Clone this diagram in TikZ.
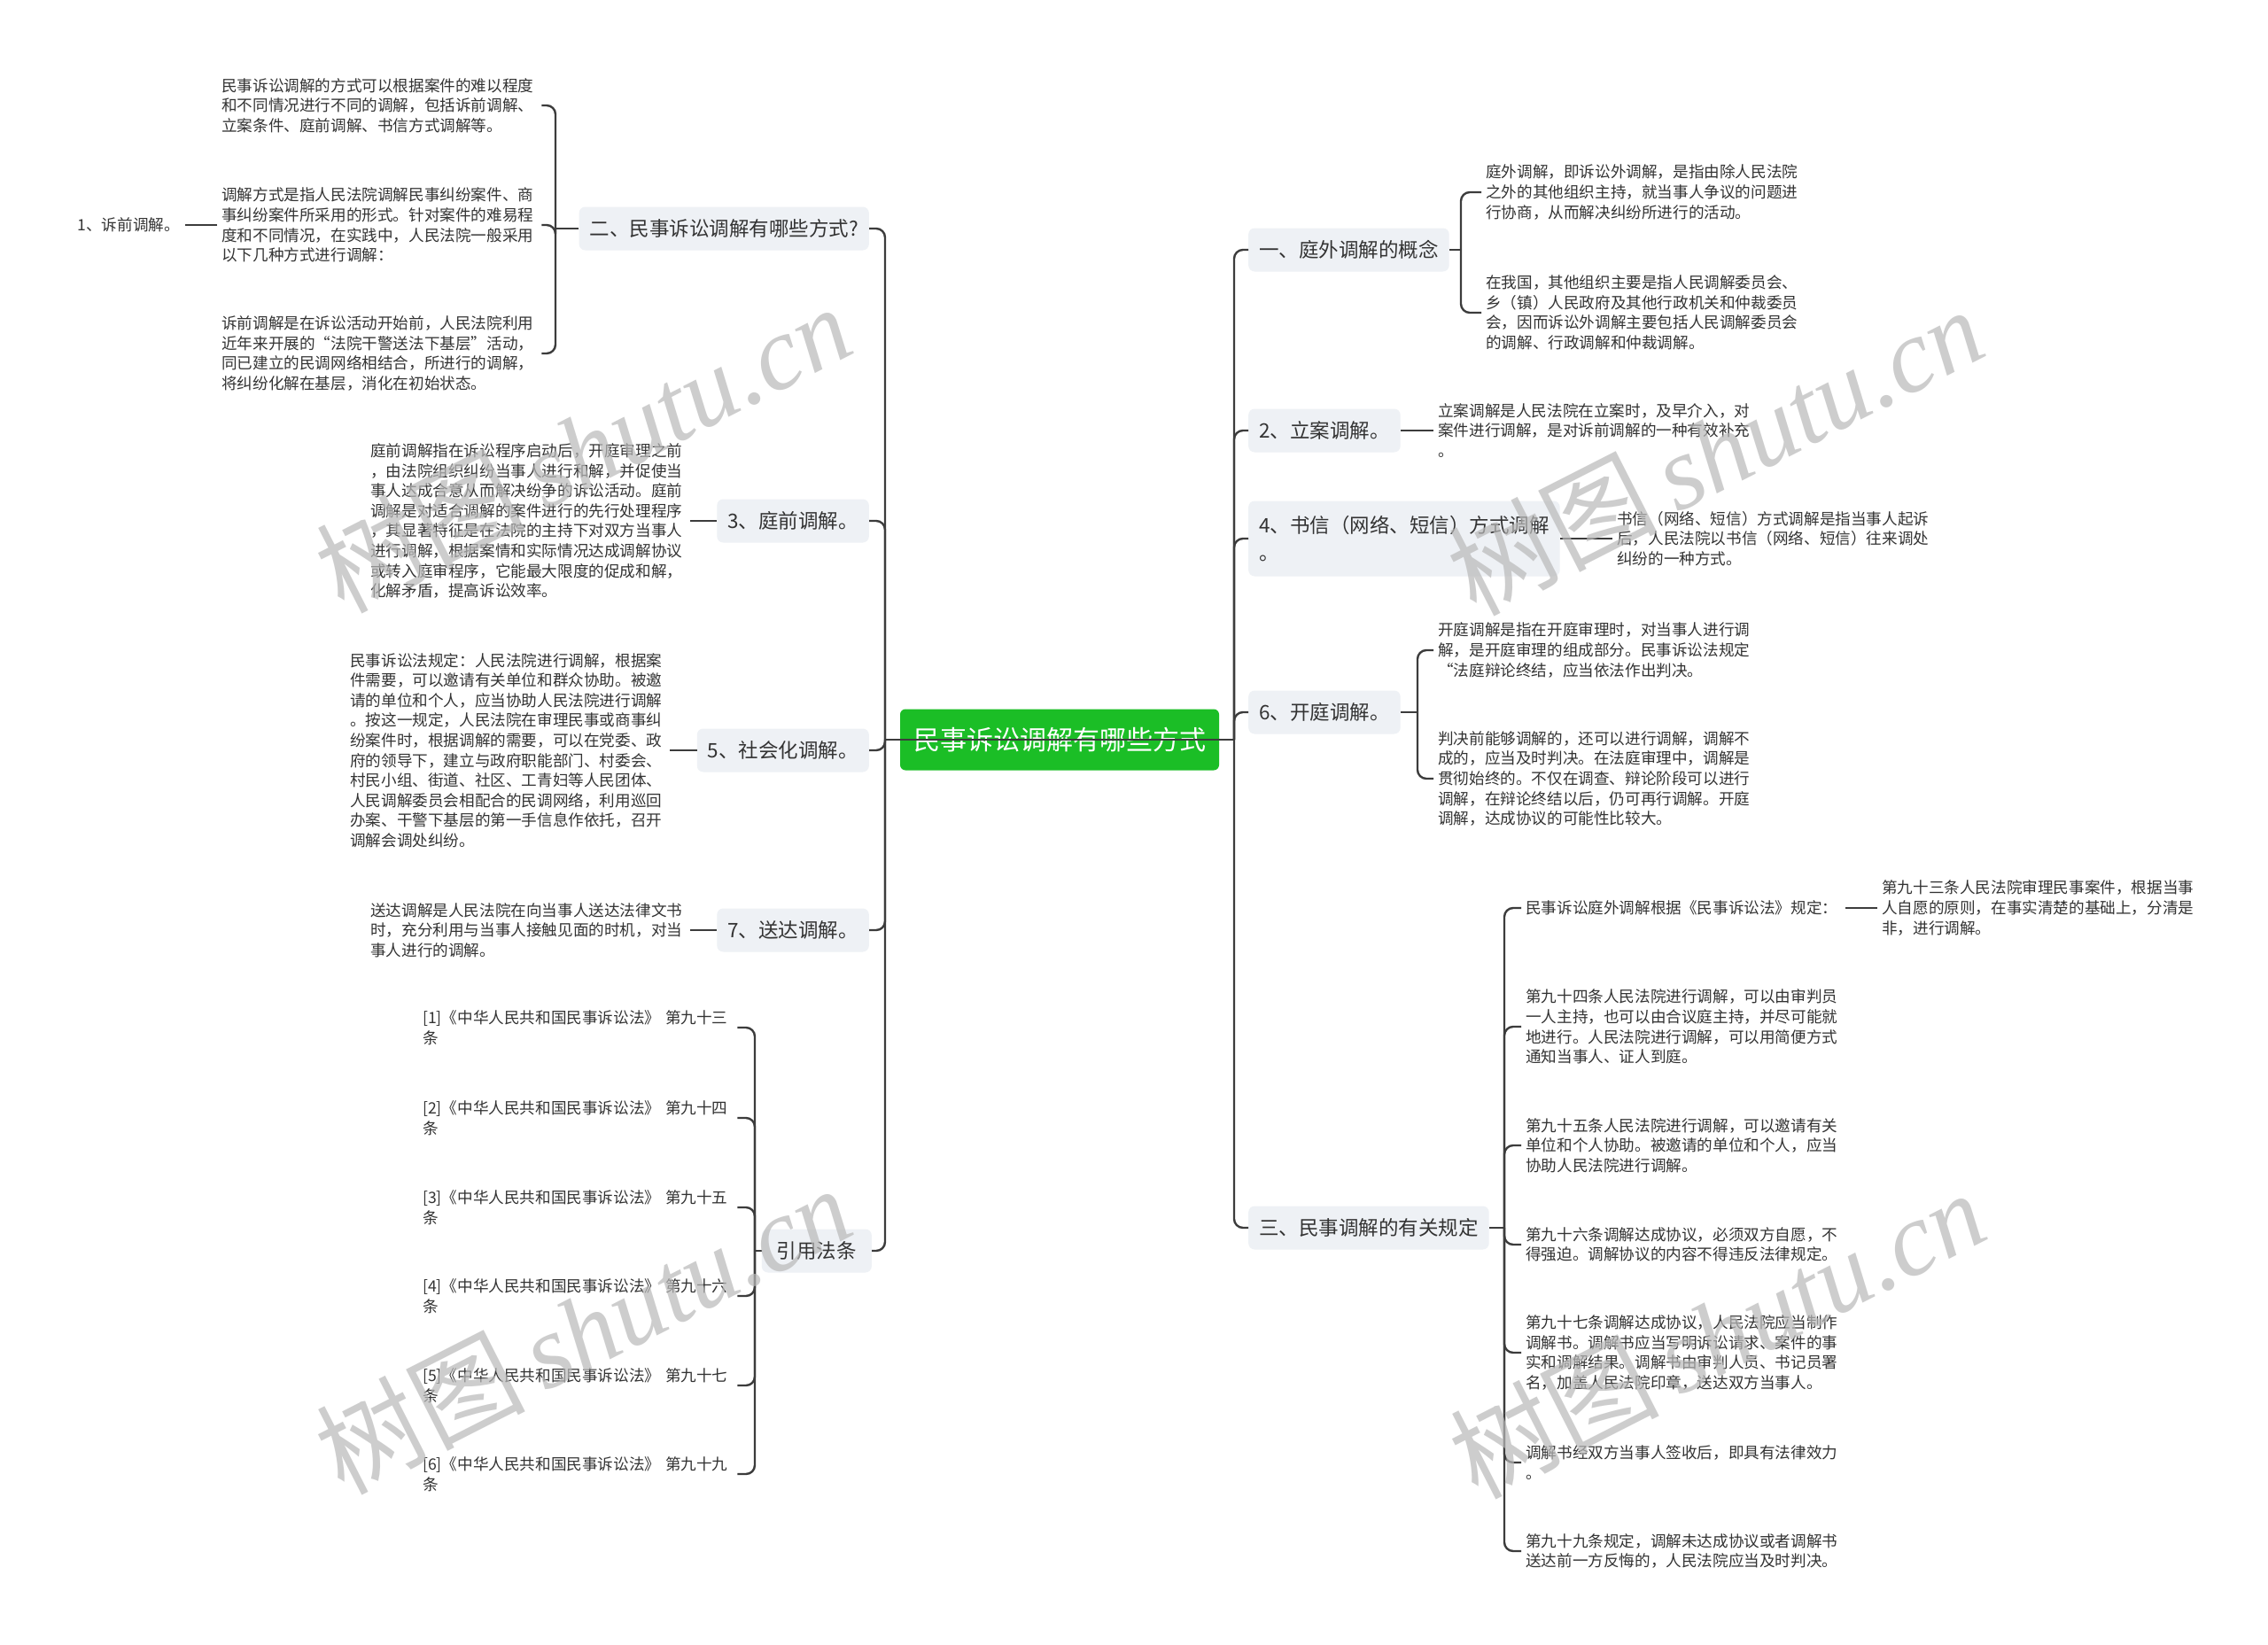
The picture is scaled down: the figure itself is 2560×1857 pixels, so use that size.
\documentclass[tikz,border=0pt]{standalone}
\usepackage{fontspec}
\setmainfont{Noto Sans CJK SC}
\newfontfamily\wmlatin{Liberation Serif}
\definecolor{lncol}{HTML}{3C3C3C}
\definecolor{txt}{HTML}{333333}
\definecolor{nodefill}{HTML}{EEF1F5}
\definecolor{rootgreen}{HTML}{1BBE26}
\tikzset{
  ln/.style={draw=lncol, line width=2.4pt},
  br/.style={draw=lncol, line width=2.4pt, rounded corners=10pt},
  topic/.style={fill=nodefill, rounded corners=7pt, text=txt, font=\fontsize{22.5}{31}\selectfont, inner xsep=12pt, inner ysep=0pt, minimum height=49pt},
  rootnode/.style={fill=rootgreen, rounded corners=6pt, text=white, font=\fontsize{30}{36}\selectfont, minimum width=360pt, minimum height=69pt, inner sep=0pt},
  leaf/.style={text=txt, font=\fontsize{17.6}{22.6}\selectfont, align=left, inner sep=5pt, text width=356pt, anchor=west},
  cite/.style={leaf, text width=350pt},
  shortleaf/.style={text=txt, font=\fontsize{17.6}{22.6}\selectfont, inner xsep=6pt, inner ysep=5pt},
  wm/.style={rotate=27, text=gray!55, text opacity=0.7, inner sep=0pt}
}
\begin{document}
\begin{tikzpicture}[x=1pt,y=-1pt]
\useasboundingbox (0,0) rectangle (2560,1857);
\fill[white] (0,0) rectangle (2560,1857);

% root
\node[rootnode] (root) at (1196,835) {民事诉讼调解有哪些方式};
\coordinate (LJ) at (999,835);
\coordinate (RJ) at (1393,835);

% left main topics
\node[topic, anchor=east] (L1) at (981,258) {二、民事诉讼调解有哪些方式?};
\node[topic, anchor=east] (L2) at (981,588) {3、庭前调解。};
\node[topic, anchor=east] (L3) at (981,847) {5、社会化调解。};
\node[topic, anchor=east] (L4) at (981,1050) {7、送达调解。};
\node[topic, anchor=east, minimum width=124pt] (L5) at (984,1412) {引用法条};

% right main topics
\node[topic, anchor=west] (R1) at (1409,282) {一、庭外调解的概念};
\node[topic, anchor=west] (R2) at (1409,486) {2、立案调解。};
\node[topic, anchor=west, align=left, minimum height=85pt] (R3) at (1409,608) {4、书信（网络、短信）方式调解\\。};
\node[topic, anchor=west] (R4) at (1409,804) {6、开庭调解。};
\node[topic, anchor=west] (R5) at (1409,1386) {三、民事调解的有关规定};

% left leaves
\node[leaf] (L1a) at (245,119) {民事诉讼调解的方式可以根据案件的难以程度\\和不同情况进行不同的调解，包括诉前调解、\\立案条件、庭前调解、书信方式调解等。};
\node[leaf] (L1b) at (245,254) {调解方式是指人民法院调解民事纠纷案件、商\\事纠纷案件所采用的形式。针对案件的难易程\\度和不同情况，在实践中，人民法院一般采用\\以下几种方式进行调解：};
\node[leaf] (L1c) at (245,399) {诉前调解是在诉讼活动开始前，人民法院利用\\近年来开展的“法院干警送法下基层”活动，\\同已建立的民调网络相结合，所进行的调解，\\将纠纷化解在基层，消化在初始状态。};
\node[shortleaf, anchor=east] (L1b1) at (209,254) {1、诉前调解。};

\node[leaf] (L2a) at (413,588) {庭前调解指在诉讼程序启动后，开庭审理之前\\，由法院组织纠纷当事人进行和解，并促使当\\事人达成合意从而解决纷争的诉讼活动。庭前\\调解是对适合调解的案件进行的先行处理程序\\，其显著特征是在法院的主持下对双方当事人\\进行调解，根据案情和实际情况达成调解协议\\或转入庭审程序，它能最大限度的促成和解，\\化解矛盾，提高诉讼效率。};
\node[leaf] (L3a) at (390,847) {民事诉讼法规定：人民法院进行调解，根据案\\件需要，可以邀请有关单位和群众协助。被邀\\请的单位和个人，应当协助人民法院进行调解\\。按这一规定，人民法院在审理民事或商事纠\\纷案件时，根据调解的需要，可以在党委、政\\府的领导下，建立与政府职能部门、村委会、\\村民小组、街道、社区、工青妇等人民团体、\\人民调解委员会相配合的民调网络，利用巡回\\办案、干警下基层的第一手信息作依托，召开\\调解会调处纠纷。};
\node[leaf] (L4a) at (413,1050) {送达调解是人民法院在向当事人送达法律文书\\时，充分利用与当事人接触见面的时机，对当\\事人进行的调解。};

\node[cite] (C1) at (472,1160) {[1]《中华人民共和国民事诉讼法》~第九十三\\条};
\node[cite] (C2) at (472,1262) {[2]《中华人民共和国民事诉讼法》~第九十四\\条};
\node[cite] (C3) at (472,1363) {[3]《中华人民共和国民事诉讼法》~第九十五\\条};
\node[cite] (C4) at (472,1463) {[4]《中华人民共和国民事诉讼法》~第九十六\\条};
\node[cite] (C5) at (472,1564) {[5]《中华人民共和国民事诉讼法》~第九十七\\条};
\node[cite] (C6) at (472,1664) {[6]《中华人民共和国民事诉讼法》~第九十九\\条};

% right leaves
\node[leaf] (R1a) at (1672,217) {庭外调解，即诉讼外调解，是指由除人民法院\\之外的其他组织主持，就当事人争议的问题进\\行协商，从而解决纠纷所进行的活动。};
\node[leaf] (R1b) at (1672,353) {在我国，其他组织主要是指人民调解委员会、\\乡（镇）人民政府及其他行政机关和仲裁委员\\会，因而诉讼外调解主要包括人民调解委员会\\的调解、行政调解和仲裁调解。};
\node[leaf] (R2a) at (1618,486) {立案调解是人民法院在立案时，及早介入，对\\案件进行调解，是对诉前调解的一种有效补充\\。};
\node[leaf] (R3a) at (1820,608) {书信（网络、短信）方式调解是指当事人起诉\\后，人民法院以书信（网络、短信）往来调处\\纠纷的一种方式。};
\node[leaf] (R4a) at (1618,734) {开庭调解是指在开庭审理时，对当事人进行调\\解，是开庭审理的组成部分。民事诉讼法规定\\“法庭辩论终结，应当依法作出判决。};
\node[leaf] (R4b) at (1618,879) {判决前能够调解的，还可以进行调解，调解不\\成的，应当及时判决。在法庭审理中，调解是\\贯彻始终的。不仅在调查、辩论阶段可以进行\\调解，在辩论终结以后，仍可再行调解。开庭\\调解，达成协议的可能性比较大。};

\node[leaf] (R5a) at (1717,1025) {民事诉讼庭外调解根据《民事诉讼法》规定：};
\node[leaf] (R5a1) at (2119,1025) {第九十三条人民法院审理民事案件，根据当事\\人自愿的原则，在事实清楚的基础上，分清是\\非，进行调解。};
\node[leaf] (R5b) at (1717,1159) {第九十四条人民法院进行调解，可以由审判员\\一人主持，也可以由合议庭主持，并尽可能就\\地进行。人民法院进行调解，可以用简便方式\\通知当事人、证人到庭。};
\node[leaf] (R5c) at (1717,1293) {第九十五条人民法院进行调解，可以邀请有关\\单位和个人协助。被邀请的单位和个人，应当\\协助人民法院进行调解。};
\node[leaf] (R5d) at (1717,1405) {第九十六条调解达成协议，必须双方自愿，不\\得强迫。调解协议的内容不得违反法律规定。};
\node[leaf] (R5e) at (1717,1527) {第九十七条调解达成协议，人民法院应当制作\\调解书。调解书应当写明诉讼请求、案件的事\\实和调解结果。调解书由审判人员、书记员署\\名，加盖人民法院印章，送达双方当事人。};
\node[leaf] (R5f) at (1717,1651) {调解书经双方当事人签收后，即具有法律效力\\。};
\node[leaf] (R5g) at (1717,1751) {第九十九条规定，调解未达成协议或者调解书\\送达前一方反悔的，人民法院应当及时判决。};

% junction coordinates
\coordinate (J1) at (627,258);
\coordinate (J5) at (852,1412);
\coordinate (K1) at (1649,282);
\coordinate (K4) at (1600,804);
\coordinate (K5) at (1698,1386);

% trunk connectors
\draw[ln] (root.west) -- (LJ);
\draw[ln] (root.east) -- (RJ);
\foreach \n in {L1,L2,L3,L4,L5} { \draw[br] (LJ) |- (\n.east); }
\foreach \n in {R1,R2,R3,R4,R5} { \draw[br] (RJ) |- (\n.west); }
\draw[ln] (LJ) -- (RJ);

% left group connectors
\draw[ln] (L1.west) -- (J1);
\foreach \n in {L1a,L1b,L1c} { \draw[br] (J1) |- (\n.east); }
\draw[ln] (L1b.west) -- (L1b1.east);
\draw[ln] (L2.west) -- (L2a.east);
\draw[ln] (L3.west) -- (L3a.east);
\draw[ln] (L4.west) -- (L4a.east);
\draw[ln] (L5.west) -- (J5);
\foreach \n in {C1,C2,C3,C4,C5,C6} { \draw[br] (J5) |- (\n.east); }

% right group connectors
\draw[ln] (R1.east) -- (K1);
\foreach \n in {R1a,R1b} { \draw[br] (K1) |- (\n.west); }
\draw[ln] (R2.east) -- (R2a.west);
\draw[ln] (R3.east) -- (R3a.west);
\draw[ln] (R4.east) -- (K4);
\foreach \n in {R4a,R4b} { \draw[br] (K4) |- (\n.west); }
\draw[ln] (R5.east) -- (K5);
\foreach \n in {R5a,R5b,R5c,R5d,R5e,R5f,R5g} { \draw[br] (K5) |- (\n.west); }
\draw[ln] (R5a.east) -- (R5a1.west);

% watermarks
\foreach \p/\nm in {{(658,505)}/wa,{(658,1500)}/wb,{(1936,508)}/wc,{(1938,1505)}/wd} {
  \node[wm] (\nm) at \p {\fontsize{118}{120}\selectfont 树图\,{\wmlatin\itshape shutu.cn}};
}
\end{tikzpicture}
\end{document}
